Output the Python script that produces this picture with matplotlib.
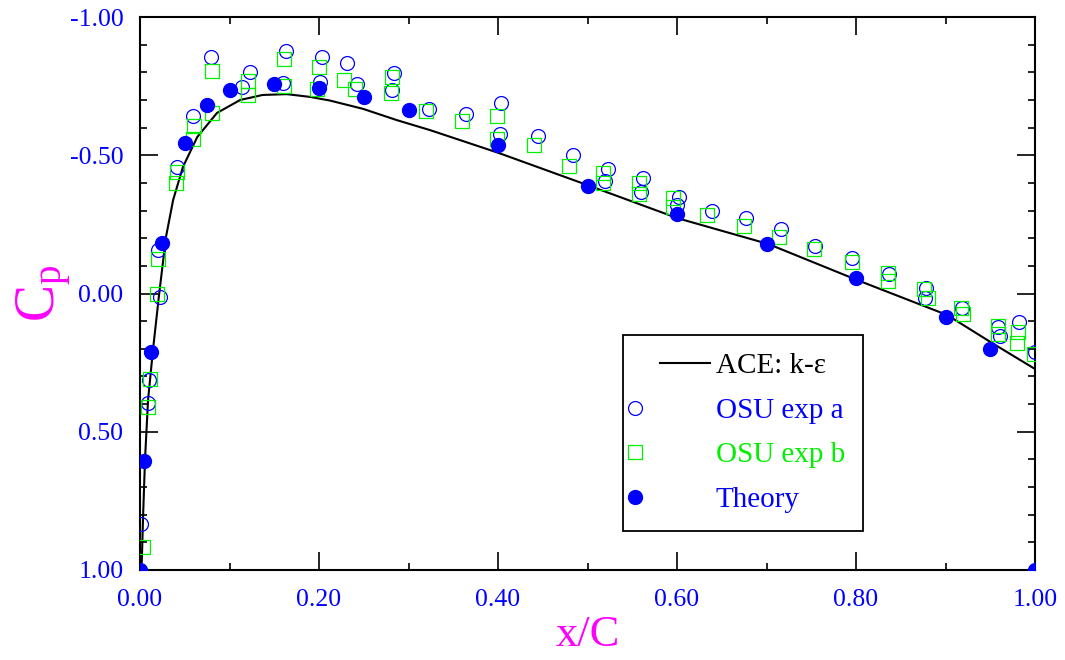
import matplotlib

matplotlib.use("Agg")
import matplotlib.pyplot as plt
from matplotlib.legend_handler import HandlerBase
from matplotlib.lines import Line2D
from matplotlib.ticker import MultipleLocator, FormatStrFormatter

plt.rcParams["font.family"] = ["Liberation Serif", "DejaVu Serif"]
plt.rcParams["mathtext.fontset"] = "custom"
plt.rcParams["mathtext.rm"] = "Liberation Serif"

BLUE, GREEN, MAGENTA = "#0000ff", "#00f000", "#ff00ff"

# ACE k-epsilon computed Cp along the chord
ace_x = [0.0, 0.002, 0.0034, 0.0056, 0.009, 0.0145, 0.021, 0.029, 0.037, 0.048,
         0.064, 0.086, 0.112, 0.137, 0.164, 0.19, 0.212, 0.249, 0.287, 0.324,
         0.401, 0.50, 0.601, 0.702, 0.801, 0.902, 0.952, 1.0]
ace_cp = [1.0, 0.97, 0.81, 0.60, 0.385, 0.204, 0.013, -0.204, -0.338, -0.458,
          -0.566, -0.653, -0.70, -0.718, -0.721, -0.711, -0.698, -0.668, -0.627, -0.591,
          -0.508, -0.392, -0.272, -0.179, -0.049, 0.078, 0.179, 0.273]

# OSU experiment a (open circles)
osu_a_x = [0.001, 0.009, 0.010, 0.022, 0.020, 0.041, 0.059, 0.079, 0.123, 0.114,
           0.163, 0.160, 0.203, 0.201, 0.231, 0.242, 0.284, 0.282, 0.323, 0.364,
           0.403, 0.402, 0.445, 0.484, 0.523, 0.520, 0.562, 0.560, 0.602, 0.600,
           0.639, 0.677, 0.716, 0.754, 0.796, 0.837, 0.878, 0.877, 0.918, 0.959,
           0.961, 0.982, 1.0]
osu_a_cp = [0.834, 0.396, 0.313, 0.013, -0.157, -0.457, -0.642, -0.855, -0.801, -0.747,
            -0.877, -0.761, -0.855, -0.765, -0.834, -0.758, -0.797, -0.736, -0.667, -0.649,
            -0.689, -0.577, -0.570, -0.501, -0.450, -0.407, -0.418, -0.367, -0.349, -0.320,
            -0.298, -0.273, -0.233, -0.172, -0.128, -0.071, -0.020, 0.016, 0.052, 0.121,
            0.154, 0.103, 0.21]

# OSU experiment b (open squares)
osu_b_x = [0.003, 0.009, 0.011, 0.019, 0.020, 0.041, 0.040, 0.060, 0.059, 0.080,
           0.080, 0.121, 0.121, 0.161, 0.161, 0.200, 0.198, 0.228, 0.240, 0.282,
           0.280, 0.320, 0.360, 0.399, 0.399, 0.440, 0.479, 0.517, 0.517, 0.558,
           0.558, 0.596, 0.596, 0.634, 0.675, 0.714, 0.753, 0.796, 0.836, 0.836,
           0.876, 0.880, 0.917, 0.920, 0.959, 0.959, 0.981, 0.980, 0.999]
osu_b_cp = [0.917, 0.410, 0.309, 0.002, -0.125, -0.439, -0.400, -0.606, -0.559, -0.805,
            -0.653, -0.768, -0.718, -0.848, -0.750, -0.819, -0.740, -0.772, -0.740, -0.783,
            -0.725, -0.660, -0.624, -0.642, -0.559, -0.537, -0.461, -0.436, -0.400, -0.400,
            -0.360, -0.345, -0.313, -0.284, -0.244, -0.204, -0.161, -0.114, -0.074, -0.045,
            -0.016, 0.016, 0.052, 0.074, 0.118, 0.146, 0.139, 0.179, 0.219]

# Theory (filled circles)
theory_x = [0.0, 0.005, 0.0125, 0.025, 0.05, 0.075, 0.1, 0.15, 0.2, 0.25,
            0.3, 0.4, 0.5, 0.6, 0.7, 0.8, 0.9, 0.95, 1.0]
theory_cp = [1.0, 0.605, 0.213, -0.183, -0.545, -0.68, -0.735, -0.757, -0.743, -0.71,
             -0.664, -0.537, -0.389, -0.287, -0.18, -0.056, 0.085, 0.20, 1.0]


class LeftMarkerHandler(HandlerBase):
    """Legend handle: marker at the far left, line segment on the right."""

    def create_artists(self, legend, orig_handle, xdescent, ydescent,
                       width, height, fontsize, trans):
        x0 = -xdescent
        y = (height - ydescent) / 2
        seg = Line2D([x0 + 0.27 * width, x0 + width], [y, y])
        seg.update_from(orig_handle)
        seg.set_marker("none")
        mark = Line2D([x0 - 0.1 * width], [y])
        mark.update_from(orig_handle)
        mark.set_linestyle("none")
        seg.set_transform(trans)
        mark.set_transform(trans)
        return [seg, mark]


fig = plt.figure(figsize=(10.65, 6.6), dpi=100)
ax = fig.add_axes([140 / 1065, 1 - 570 / 660, 895 / 1065, 553 / 660])

ax.plot(ace_x, ace_cp, color="black", lw=1.5, label="ACE: k-\u03b5", zorder=2)
ax.plot(osu_a_x, osu_a_cp, ls="none", marker="o", ms=10, mfc="none", mec=BLUE,
        mew=0.9, label="OSU exp a", zorder=3)
ax.plot(osu_b_x, osu_b_cp, ls="none", marker="s", ms=9.5, mfc="none", mec=GREEN,
        mew=0.9, label="OSU exp b", zorder=4)
ax.plot(theory_x, theory_cp, ls="none", marker="o", ms=10, color=BLUE,
        label="Theory", zorder=5)

ax.set_xlim(0, 1)
ax.set_ylim(1, -1)
ax.xaxis.set_major_locator(MultipleLocator(0.2))
ax.xaxis.set_minor_locator(MultipleLocator(0.1))
ax.yaxis.set_major_locator(MultipleLocator(0.5))
ax.yaxis.set_minor_locator(MultipleLocator(0.1))
ax.xaxis.set_major_formatter(FormatStrFormatter("%.2f"))
ax.yaxis.set_major_formatter(FormatStrFormatter("%.2f"))
ax.tick_params(which="both", direction="in", top=True, right=True, width=1.2,
               labelcolor=BLUE, labelsize=18.5)
ax.tick_params(which="major", length=13)
ax.tick_params(which="minor", length=5)
ax.tick_params(axis="x", which="major", pad=14)
ax.tick_params(axis="y", which="major", pad=12)
for spine in ax.spines.values():
    spine.set_linewidth(1.5)

ax.set_xlabel("x/C", color=MAGENTA, fontsize=32)
ax.xaxis.set_label_coords(0.5, -0.082)
ax.set_ylabel(r"$\mathrm{C_p}$", color=MAGENTA, fontsize=40)
ax.yaxis.set_label_coords(-0.074, 0.5)

leg = ax.legend(loc="upper left", bbox_to_anchor=(0.540, 0.425), borderaxespad=0,
                fontsize=21, fancybox=False, framealpha=1, edgecolor="black",
                handlelength=2.35, handletextpad=0.2, labelspacing=0.62,
                borderpad=0.62, numpoints=1,
                handler_map={Line2D: LeftMarkerHandler()})
leg.get_frame().set_linewidth(1.3)
for txt, col in zip(leg.get_texts(), ["black", BLUE, GREEN, BLUE]):
    txt.set_color(col)

fig.savefig("out.png", dpi=100, facecolor="white")
